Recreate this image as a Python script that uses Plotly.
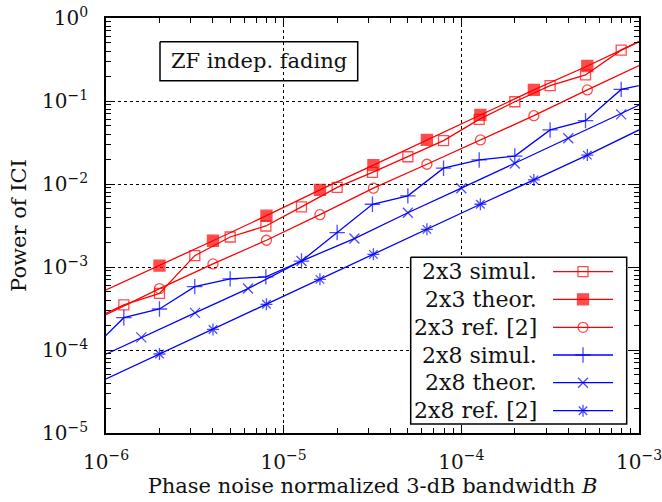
import plotly.graph_objects as go

# ---------------- data ----------------
x_sim = [7.94e-7, 1.26e-6, 2.0e-6, 3.16e-6, 5.0e-6, 7.94e-6, 1.26e-5, 2.0e-5, 3.16e-5,
         5.0e-5, 7.94e-5, 1.26e-4, 2.0e-4, 3.16e-4, 5.0e-4, 7.94e-4, 1.26e-3]
y_2x3_sim = [2.2e-4, 3.5e-4, 4.8e-4, 1.37e-3, 2.3e-3, 3.12e-3, 5.3e-3, 9.1e-3, 0.0138,
             0.0213, 0.0333, 0.060, 0.098, 0.153, 0.206, 0.41, 0.66]
y_2x8_sim = [9.2e-5, 2.45e-4, 3.12e-4, 5.8e-4, 7.2e-4, 7.6e-4, 1.18e-3, 2.6e-3, 5.7e-3,
             7.2e-3, 0.0155, 0.0195, 0.0217, 0.0448, 0.058, 0.138, 0.17]

x_2x3_th = [1e-6, 2e-6, 4e-6, 8e-6, 1.6e-5, 3.2e-5, 6.4e-5, 1.28e-4, 2.56e-4, 5.12e-4, 1.0e-3]
y_2x3_th = [5.3e-4, 1.04e-3, 2.07e-3, 4.15e-3, 8.5e-3, 0.0169, 0.034, 0.068, 0.136, 0.264, 0.518]

x_ref = [1e-6, 2e-6, 4e-6, 8e-6, 1.6e-5, 3.2e-5, 6.4e-5, 1.28e-4, 2.56e-4, 5.12e-4, 1.0e-3]
y_2x3_ref = [2.67e-4, 5.5e-4, 1.09e-3, 2.1e-3, 4.27e-3, 8.9e-3, 0.0173, 0.034, 0.0665, 0.136, 0.267]
y_2x8_ref = [4.47e-5, 8.95e-5, 1.77e-4, 3.55e-4, 7.1e-4, 1.42e-3, 2.84e-3, 5.7e-3, 0.0112, 0.0223, 0.0448]

x_2x8_th = [7.94e-7, 1.58e-6, 3.17e-6, 6.3e-6, 1.26e-5, 2.5e-5, 5.0e-5, 1.0e-4, 2.0e-4,
            4.0e-4, 7.94e-4, 1.58e-3]
y_2x8_th = [7.1e-5, 1.42e-4, 2.8e-4, 5.5e-4, 1.18e-3, 2.2e-3, 4.5e-3, 8.9e-3, 0.0177,
            0.0355, 0.069, 0.141]

series_names = ["2x3 simul.", "2x3 theor.", "2x3 ref. [2]",
                "2x8 simul.", "2x8 theor.", "2x8 ref. [2]"]
x_ticks = [1e-6, 1e-5, 1e-4, 1e-3]
x_ticktext = ["10<sup>−6</sup>", "10<sup>−5</sup>", "10<sup>−4</sup>", "10<sup>−3</sup>"]
y_ticks = [1e-5, 1e-4, 1e-3, 1e-2, 1e-1, 1e0]
y_ticktext = ["10<sup>−5</sup>", "10<sup>−4</sup>", "10<sup>−3</sup>",
              "10<sup>−2</sup>", "10<sup>−1</sup>", "10<sup>0</sup>"]

# ---------------- styling ----------------
RED = "#ff0000"
BLUE = "#0000ff"
FONT = "DejaVu Serif"
TXT = "#111111"
W, H = 662, 502
ML, MR, MT, MB = 106, 23, 18, 69

styles = [
    (RED, "square-open", 10),
    (RED, "square", 11),
    (RED, "circle-open", 10),
    (BLUE, "cross-thin-open", 11),
    (BLUE, "x-thin-open", 10),
    (BLUE, "asterisk-open", 10),
]
data = [(x_sim, y_2x3_sim), (x_2x3_th, y_2x3_th), (x_ref, y_2x3_ref),
        (x_sim, y_2x8_sim), (x_2x8_th, y_2x8_th), (x_ref, y_2x8_ref)]


def visible_sizes(xs, s):
    return [s if (1.05e-6 < x < 1.01e-3) else 0 for x in xs]


fig = go.Figure()
for (xs, ys), (col, sym, sz), name in zip(data, styles, series_names):
    fig.add_trace(go.Scatter(
        x=xs, y=ys, mode="lines+markers", name=name, showlegend=False,
        line=dict(color=col, width=1.3),
        marker=dict(symbol=sym, size=visible_sizes(xs, sz), color=col,
                    line=dict(color=col, width=1.3)),
        cliponaxis=False,
    ))

# ---------------- overlay pixel-space helpers (legend & title box) -------------
def box_trace(x0, x1, y0, y1, fill):
    return go.Scatter(
        x=[x0, x1, x1, x0, x0], y=[y0, y0, y1, y1, y0], xaxis="x2", yaxis="y2",
        mode="lines", line=dict(color="black", width=1.5),
        fill="toself" if fill else "none", fillcolor="white",
        showlegend=False, hoverinfo="skip", cliponaxis=False)


leg_x0, leg_x1, leg_y0, leg_y1 = 410.7, 626.7, 257.3, 424
row_y = [271.7, 299.3, 327.3, 355, 382.7, 410.7]
txt_right = 539
samp_x0, samp_xm, samp_x1 = 553, 583, 613

fig.add_trace(box_trace(leg_x0, leg_x1, leg_y0, leg_y1, True))
fig.add_trace(box_trace(160, 357.7, 41.7, 80.7, False))

for (col, sym, sz), name, ry in zip(styles, series_names, row_y):
    fig.add_trace(go.Scatter(
        x=[samp_x0, samp_xm, samp_x1], y=[ry, ry, ry], xaxis="x2", yaxis="y2",
        mode="lines+markers", showlegend=False, hoverinfo="skip",
        line=dict(color=col, width=1.3),
        marker=dict(symbol=sym, size=[0, sz, 0], color=col, line=dict(color=col, width=1.3)),
        cliponaxis=False,
    ))
    fig.add_annotation(x=txt_right, y=ry, xref="x2", yref="y2", text=name,
                       showarrow=False, xanchor="right", yanchor="middle",
                       font=dict(family=FONT, size=22, color=TXT))

fig.add_annotation(x=258.8, y=61, xref="x2", yref="y2", text="ZF indep. fading",
                   showarrow=False, xanchor="center", yanchor="middle",
                   font=dict(family=FONT, size=21, color=TXT))

minor_x = [k * 10.0 ** e for e in range(-6, -3) for k in range(2, 10)]
minor_y = [k * 10.0 ** e for e in range(-5, 0) for k in range(2, 10)]

axis_common = dict(
    type="log", showline=True, linecolor="black", linewidth=1.6, mirror="allticks",
    ticks="inside", ticklen=8, tickwidth=1, tickcolor="black",
    showgrid=True, gridcolor="black", griddash="dot", gridwidth=1,
    zeroline=False, tickmode="array", ticklabeloverflow="allow",
    tickfont=dict(family=FONT, size=20, color=TXT),
)

fig.update_layout(
    width=W, height=H, autosize=False,
    margin=dict(l=ML, r=MR, t=MT, b=MB, pad=0),
    paper_bgcolor="white", plot_bgcolor="white",
    font=dict(family=FONT, color=TXT),
    xaxis=dict(axis_common, range=[-6, -3], tickvals=x_ticks, ticktext=x_ticktext,
               minor=dict(tickmode="array", tickvals=minor_x, ticks="inside", ticklen=5,
                          tickcolor="black", showgrid=False),
               title=dict(text="Phase noise normalized 3-dB bandwidth <i>B</i>",
                          font=dict(family=FONT, size=21, color=TXT), standoff=4),
               ticklabelstandoff=10,
               automargin=False),
    yaxis=dict(axis_common, range=[-5, 0], tickvals=y_ticks, ticktext=y_ticktext,
               minor=dict(tickmode="array", tickvals=minor_y, ticks="inside", ticklen=5,
                          tickcolor="black", showgrid=False),
               title=dict(text="Power of ICI", font=dict(family=FONT, size=21, color=TXT),
                          standoff=10),
               ticklabelstandoff=12,
               automargin=False),
    xaxis2=dict(overlaying="x", range=[ML, W - MR], visible=False, anchor="y2",
                showticklabels=False, showgrid=False),
    yaxis2=dict(overlaying="y", range=[H - MB, MT], visible=False, anchor="x2",
                showticklabels=False, showgrid=False),
)

fig.write_html("out.html")
